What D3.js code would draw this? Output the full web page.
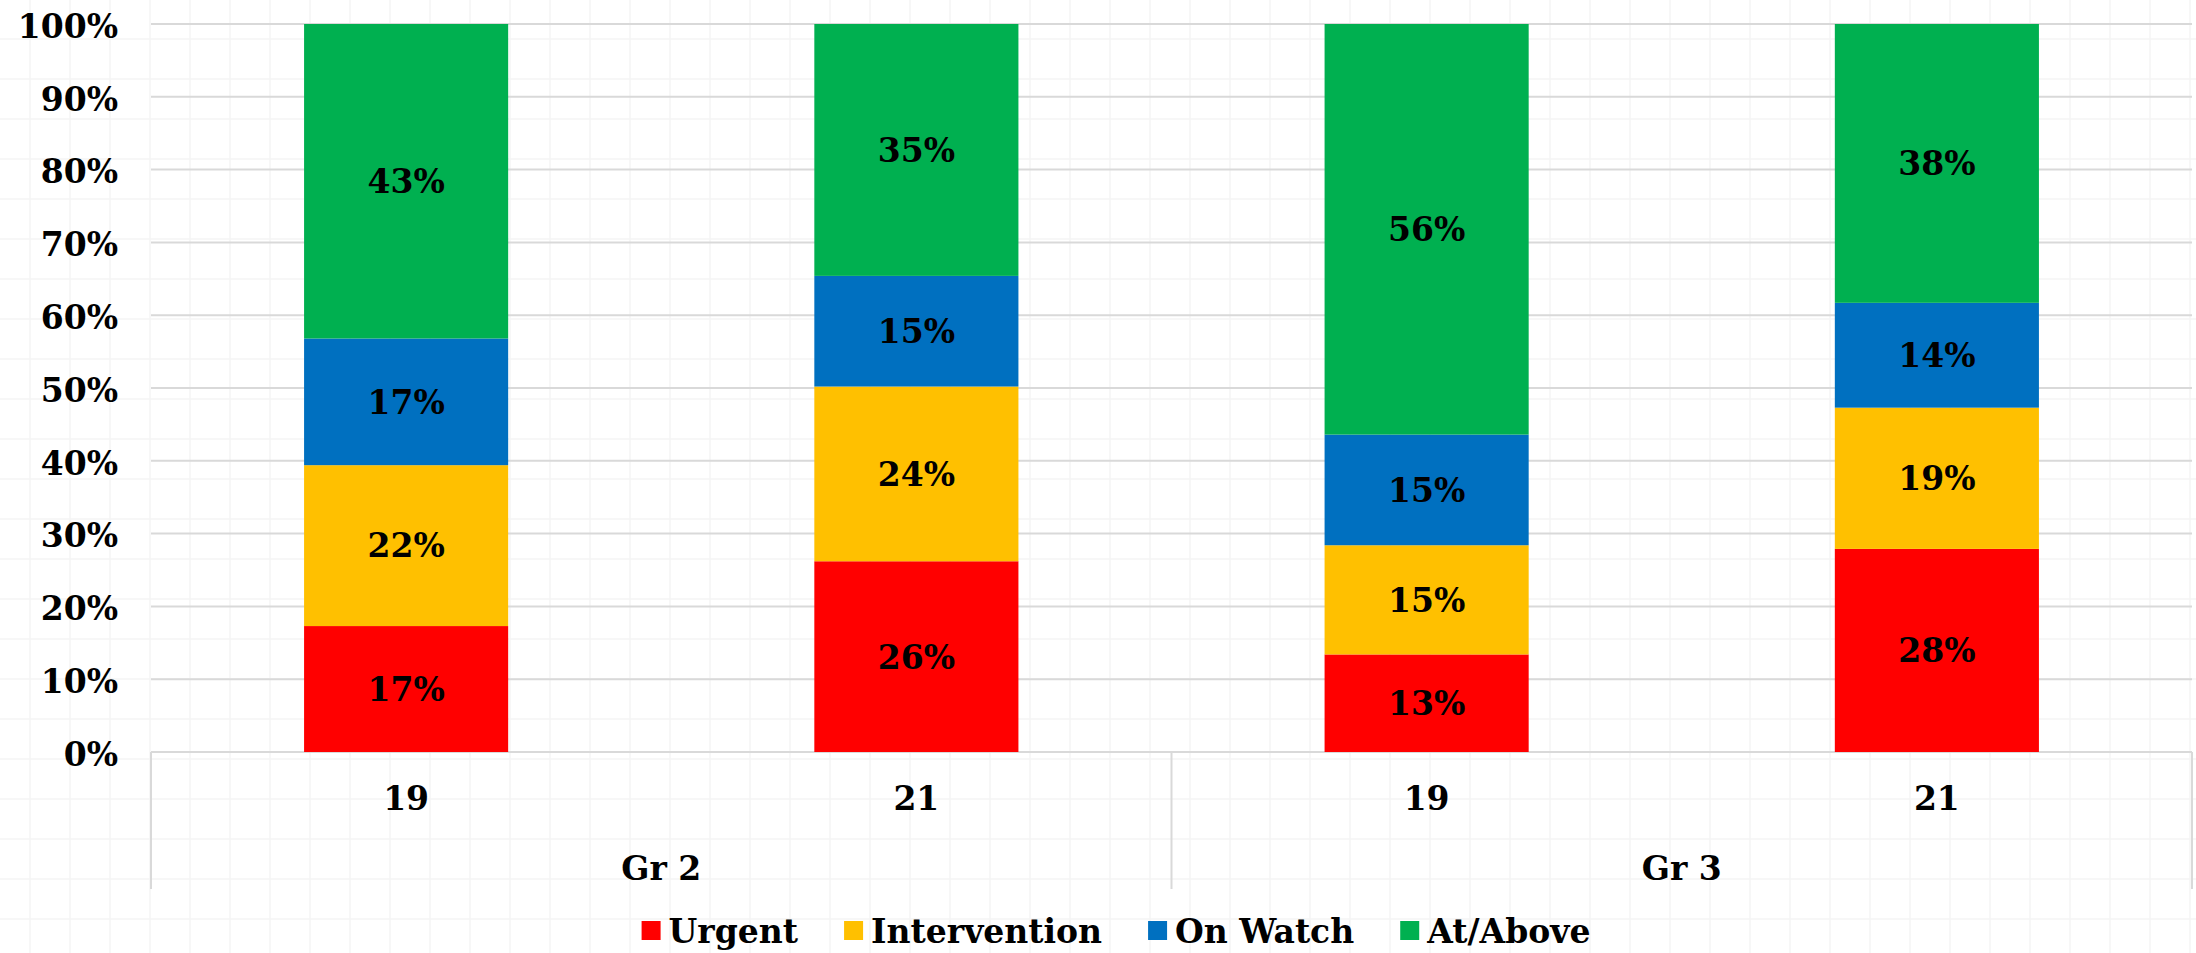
<!DOCTYPE html>
<html><head><meta charset="utf-8">
<script src="https://cdn.jsdelivr.net/npm/d3@7"></script>
<style>
html,body{margin:0;padding:0;background:#fff;}
text{font-family:"DejaVu Serif",serif;font-weight:bold;fill:#000;}
</style></head>
<body>
<svg id="chart" width="2196" height="953"></svg>
<script>
const groups = ["Gr 2", "Gr 3"];
const years = ["19", "21"];
const categories = [
  {group: "Gr 2", year: "19"},
  {group: "Gr 2", year: "21"},
  {group: "Gr 3", year: "19"},
  {group: "Gr 3", year: "21"}
];
const seriesNames = ["Urgent", "Intervention", "On Watch", "At/Above"];
const seriesColors = ["#ff0000", "#ffc000", "#0070c0", "#00b050"];
const urgent       = [17.3, 26.2, 13.4, 27.9];
const intervention = [22.1, 24.0, 15.0, 19.4];
const onWatch      = [17.4, 15.2, 15.2, 14.4];
const atAbove      = [43.2, 34.6, 56.4, 38.3];
const yTicks = [0, 10, 20, 30, 40, 50, 60, 70, 80, 90, 100];

(function () {
const svg = d3.select("#chart");
const W = 2196, H = 953;
const pLeft = 151, pRight = 2192, pTop = 24, pBottom = 752, axisBottom = 889;

// faint background sheet grid
const bg = svg.append("g");
for (let xx = 30; xx < W; xx += 40) bg.append("line").attr("x1", xx).attr("x2", xx).attr("y1", 0).attr("y2", H).attr("stroke", "#f4f4f4").attr("stroke-width", 1.5);
for (let yy = 39; yy < H; yy += 40) bg.append("line").attr("x1", 0).attr("x2", W).attr("y1", yy).attr("y2", yy).attr("stroke", "#f4f4f4").attr("stroke-width", 1.5);

const x = d3.scaleBand().domain(d3.range(categories.length)).range([pLeft, pRight]).paddingInner(0.6).paddingOuter(0.3);
const y = d3.scaleLinear().domain([0, 100]).range([pBottom, pTop]);

// gridlines
svg.append("g").selectAll("line").data(yTicks).join("line")
  .attr("x1", pLeft).attr("x2", pRight)
  .attr("y1", d => y(d)).attr("y2", d => y(d))
  .attr("stroke", "#d9d9d9").attr("stroke-width", 2);

// y axis labels
const yAxis = d3.axisLeft(y).tickValues(yTicks).tickFormat(d => d + "%").tickSize(0).tickPadding(33);
const ya = svg.append("g").attr("transform", `translate(${pLeft},0)`).call(yAxis);
ya.select(".domain").remove();
ya.selectAll("text").attr("font-size", 33).attr("font-family", "DejaVu Serif").attr("font-weight", "bold").attr("fill", "#000").attr("dy", "0.4em");

// stacked data
const seriesVals = [urgent, intervention, onWatch, atAbove];
const table = categories.map((c, i) => {
  const o = {i};
  seriesNames.forEach((s, k) => o[s] = seriesVals[k][i]);
  return o;
});
const stack = d3.stack().keys(seriesNames)(table);

const layers = svg.append("g").selectAll("g").data(stack).join("g")
  .attr("fill", (d, k) => seriesColors[k]);
layers.selectAll("rect").data(d => d).join("rect")
  .attr("x", d => x(d.data.i)).attr("width", x.bandwidth())
  .attr("y", d => y(d[1])).attr("height", d => y(d[0]) - y(d[1]));

// data labels
const lab = svg.append("g");
stack.forEach(layer => {
  layer.forEach(d => {
    lab.append("text")
      .attr("x", x(d.data.i) + x.bandwidth() / 2)
      .attr("y", (y(d[0]) + y(d[1])) / 2)
      .attr("dy", "0.36em")
      .attr("text-anchor", "middle")
      .attr("font-size", 33)
      .text(Math.round(d[1] - d[0]) + "%");
  });
});

// category axis (multi-level)
const ax = svg.append("g");
[pLeft, (pLeft + pRight) / 2, pRight].forEach(xx => {
  ax.append("line").attr("x1", xx).attr("x2", xx).attr("y1", pBottom).attr("y2", axisBottom)
    .attr("stroke", "#d9d9d9").attr("stroke-width", 2);
});
categories.forEach((c, i) => {
  ax.append("text").attr("x", x(i) + x.bandwidth() / 2).attr("y", 798).attr("dy", "0.36em")
    .attr("text-anchor", "middle").attr("font-size", 33).text(c.year);
});
const gx = d3.scaleBand().domain(groups).range([pLeft, pRight]);
groups.forEach(g => {
  ax.append("text").attr("x", gx(g) + gx.bandwidth() / 2).attr("y", 868).attr("dy", "0.36em")
    .attr("text-anchor", "middle").attr("font-size", 33).text(g);
});

// legend
const leg = svg.append("g");
const items = seriesNames.map((s, k) => {
  const g = leg.append("g");
  g.append("rect").attr("width", 19).attr("height", 19).attr("y", -10).attr("fill", seriesColors[k]);
  const t = g.append("text").attr("x", 27).attr("dy", "0.36em").attr("font-size", 33).text(s);
  return {g, w: 27 + t.node().getComputedTextLength()};
});
const gap = 46;
const total = d3.sum(items, d => d.w) + gap * (items.length - 1);
let cx = 1116 - total / 2;
items.forEach(it => {
  it.g.attr("transform", `translate(${cx},931)`);
  cx += it.w + gap;
});
})();
</script>
</body></html>
